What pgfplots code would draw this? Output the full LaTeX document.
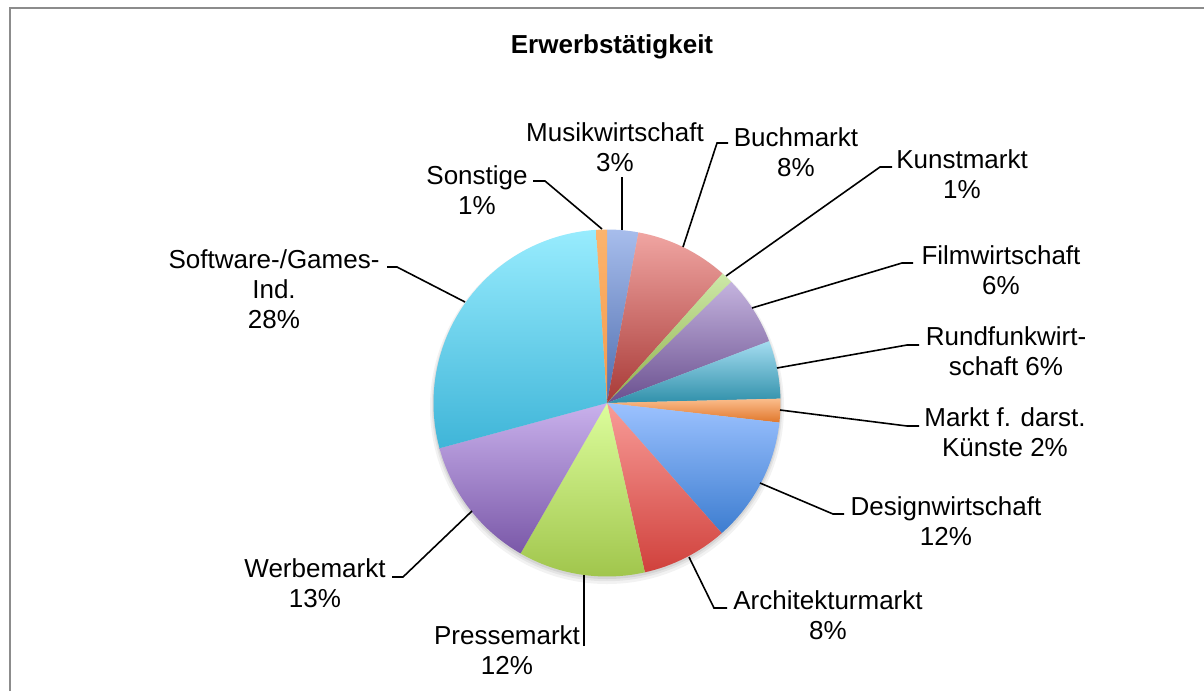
\documentclass[border=0pt]{standalone}
\usepackage{pgfplots}
\pgfplotsset{compat=1.18}
\usepackage{fontspec}
\setmainfont{Liberation Sans}
\definecolor{musA}{HTML}{A7BDEC}\definecolor{musB}{HTML}{4E6DAE}
\definecolor{bucA}{HTML}{F0A5A2}\definecolor{bucB}{HTML}{A83A37}
\definecolor{kunA}{HTML}{CDE8A8}\definecolor{kunB}{HTML}{8FB04A}
\definecolor{filA}{HTML}{C4B3DE}\definecolor{filB}{HTML}{6A508F}
\definecolor{runA}{HTML}{A4DCF0}\definecolor{runB}{HTML}{3090AA}
\definecolor{marA}{HTML}{FBBD8C}\definecolor{marB}{HTML}{E0762A}
\definecolor{desA}{HTML}{9CC2FF}\definecolor{desB}{HTML}{3D7DD0}
\definecolor{arcA}{HTML}{F89C98}\definecolor{arcB}{HTML}{D0413C}
\definecolor{preA}{HTML}{DCFD9C}\definecolor{preB}{HTML}{9FC44A}
\definecolor{werA}{HTML}{C9B1EC}\definecolor{werB}{HTML}{7A58A8}
\definecolor{sofA}{HTML}{98ECFE}\definecolor{sofB}{HTML}{3FB5D8}
\definecolor{sonA}{HTML}{FBB46E}\definecolor{sonB}{HTML}{F59A4A}
\definecolor{frame}{HTML}{8C8C8C}
\def\R{86.75pt}
% #1 start (percent), #2 share (percent), #3 light colour, #4 dark colour
\newcommand{\slice}[4]{%
  \shade[top color=#3, bottom color=#4]
    (axis cs:607,403) -- ++({90-3.6*(#1)}:\R)
    arc[start angle={90-3.6*(#1)}, end angle={90-3.6*(#1+#2)}, radius=\R] -- cycle;}
\begin{document}
\begin{tikzpicture}
\path[use as bounding box] (0,0) rectangle (602pt,345.5pt);
\begin{axis}[at={(0,0)}, anchor=south west, width=602pt, height=345.5pt,
  scale only axis, xmin=0, xmax=1204, ymin=0, ymax=691, y dir=reverse,
  hide axis, clip=false]
% frame
\addplot[frame, line width=1pt, mark=none] coordinates {(10,691) (10,8) (1204,8)};
% shadow
\fill[black, opacity=0.05] (axis cs:607,407) circle[radius=88.5pt];
\fill[black, opacity=0.06] (axis cs:607,406) circle[radius=87.6pt];
\fill[black, opacity=0.07] (axis cs:607,405) circle[radius=87pt];
% slices: start, share
\slice{0}{2.9}{musA}{musB}
\slice{2.9}{8.7}{bucA}{bucB}
\slice{11.6}{1.1}{kunA}{kunB}
\slice{12.7}{6.5}{filA}{filB}
\slice{19.2}{5.4}{runA}{runB}
\slice{24.6}{2.2}{marA}{marB}
\slice{26.8}{11.7}{desA}{desB}
\slice{38.5}{8.0}{arcA}{arcB}
\slice{46.5}{11.8}{preA}{preB}
\slice{58.3}{12.5}{werA}{werB}
\slice{70.8}{28.2}{sofA}{sofB}
\slice{99.0}{1.0}{sonA}{sonB}
% leader lines
\pgfplotsset{leader/.style={black, line width=0.8pt, mark=none}}
\addplot[leader] coordinates {(622,177) (622,230)};
\addplot[leader] coordinates {(533,181) (545,181) (602,229)};
\addplot[leader] coordinates {(728,143) (717,143) (683,247)};
\addplot[leader] coordinates {(892,167) (880,167) (726,276)};
\addplot[leader] coordinates {(913,263) (902,263) (752,308)};
\addplot[leader] coordinates {(919,345) (907,345) (777,368)};
\addplot[leader] coordinates {(919,426) (907,426) (780,410)};
\addplot[leader] coordinates {(844,514) (833,514) (760,483)};
\addplot[leader] coordinates {(727,608) (714,608) (689,557)};
\addplot[leader] coordinates {(584,646) (584,575)};
\addplot[leader] coordinates {(387,267) (397,267) (465,302)};
\addplot[leader] coordinates {(392,577) (403,577) (472,511)};
% labels
\tikzset{lab/.style={align=center, font=\fontsize{13}{15}\selectfont, inner sep=0pt}}
\node[font=\bfseries\fontsize{13}{15}\selectfont] at (axis cs:612,47) {Erwerbstätigkeit};
\node[lab] at (axis cs:615,147) {Musikwirtschaft\\3\%};
\node[lab] at (axis cs:477,190) {Sonstige\\1\%};
\node[lab] at (axis cs:796,152) {Buchmarkt\\8\%};
\node[lab] at (axis cs:962,174) {Kunstmarkt\\1\%};
\node[lab] at (axis cs:1001,270) {Filmwirtschaft\\6\%};
\node[lab] at (axis cs:1006,351) {Rundfunkwirt-\\schaft 6\%};
\node[lab] at (axis cs:1005,432) {Markt f. darst.\\Künste 2\%};
\node[lab] at (axis cs:946,521) {Designwirtschaft\\12\%};
\node[lab] at (axis cs:828,615) {Architekturmarkt\\8\%};
\node[lab] at (axis cs:507,650) {Pressemarkt\\12\%};
\node[lab] at (axis cs:274,289) {Software-/Games-\\Ind.\\28\%};
\node[lab] at (axis cs:315,583) {Werbemarkt\\13\%};
\end{axis}
\end{tikzpicture}
\end{document}
